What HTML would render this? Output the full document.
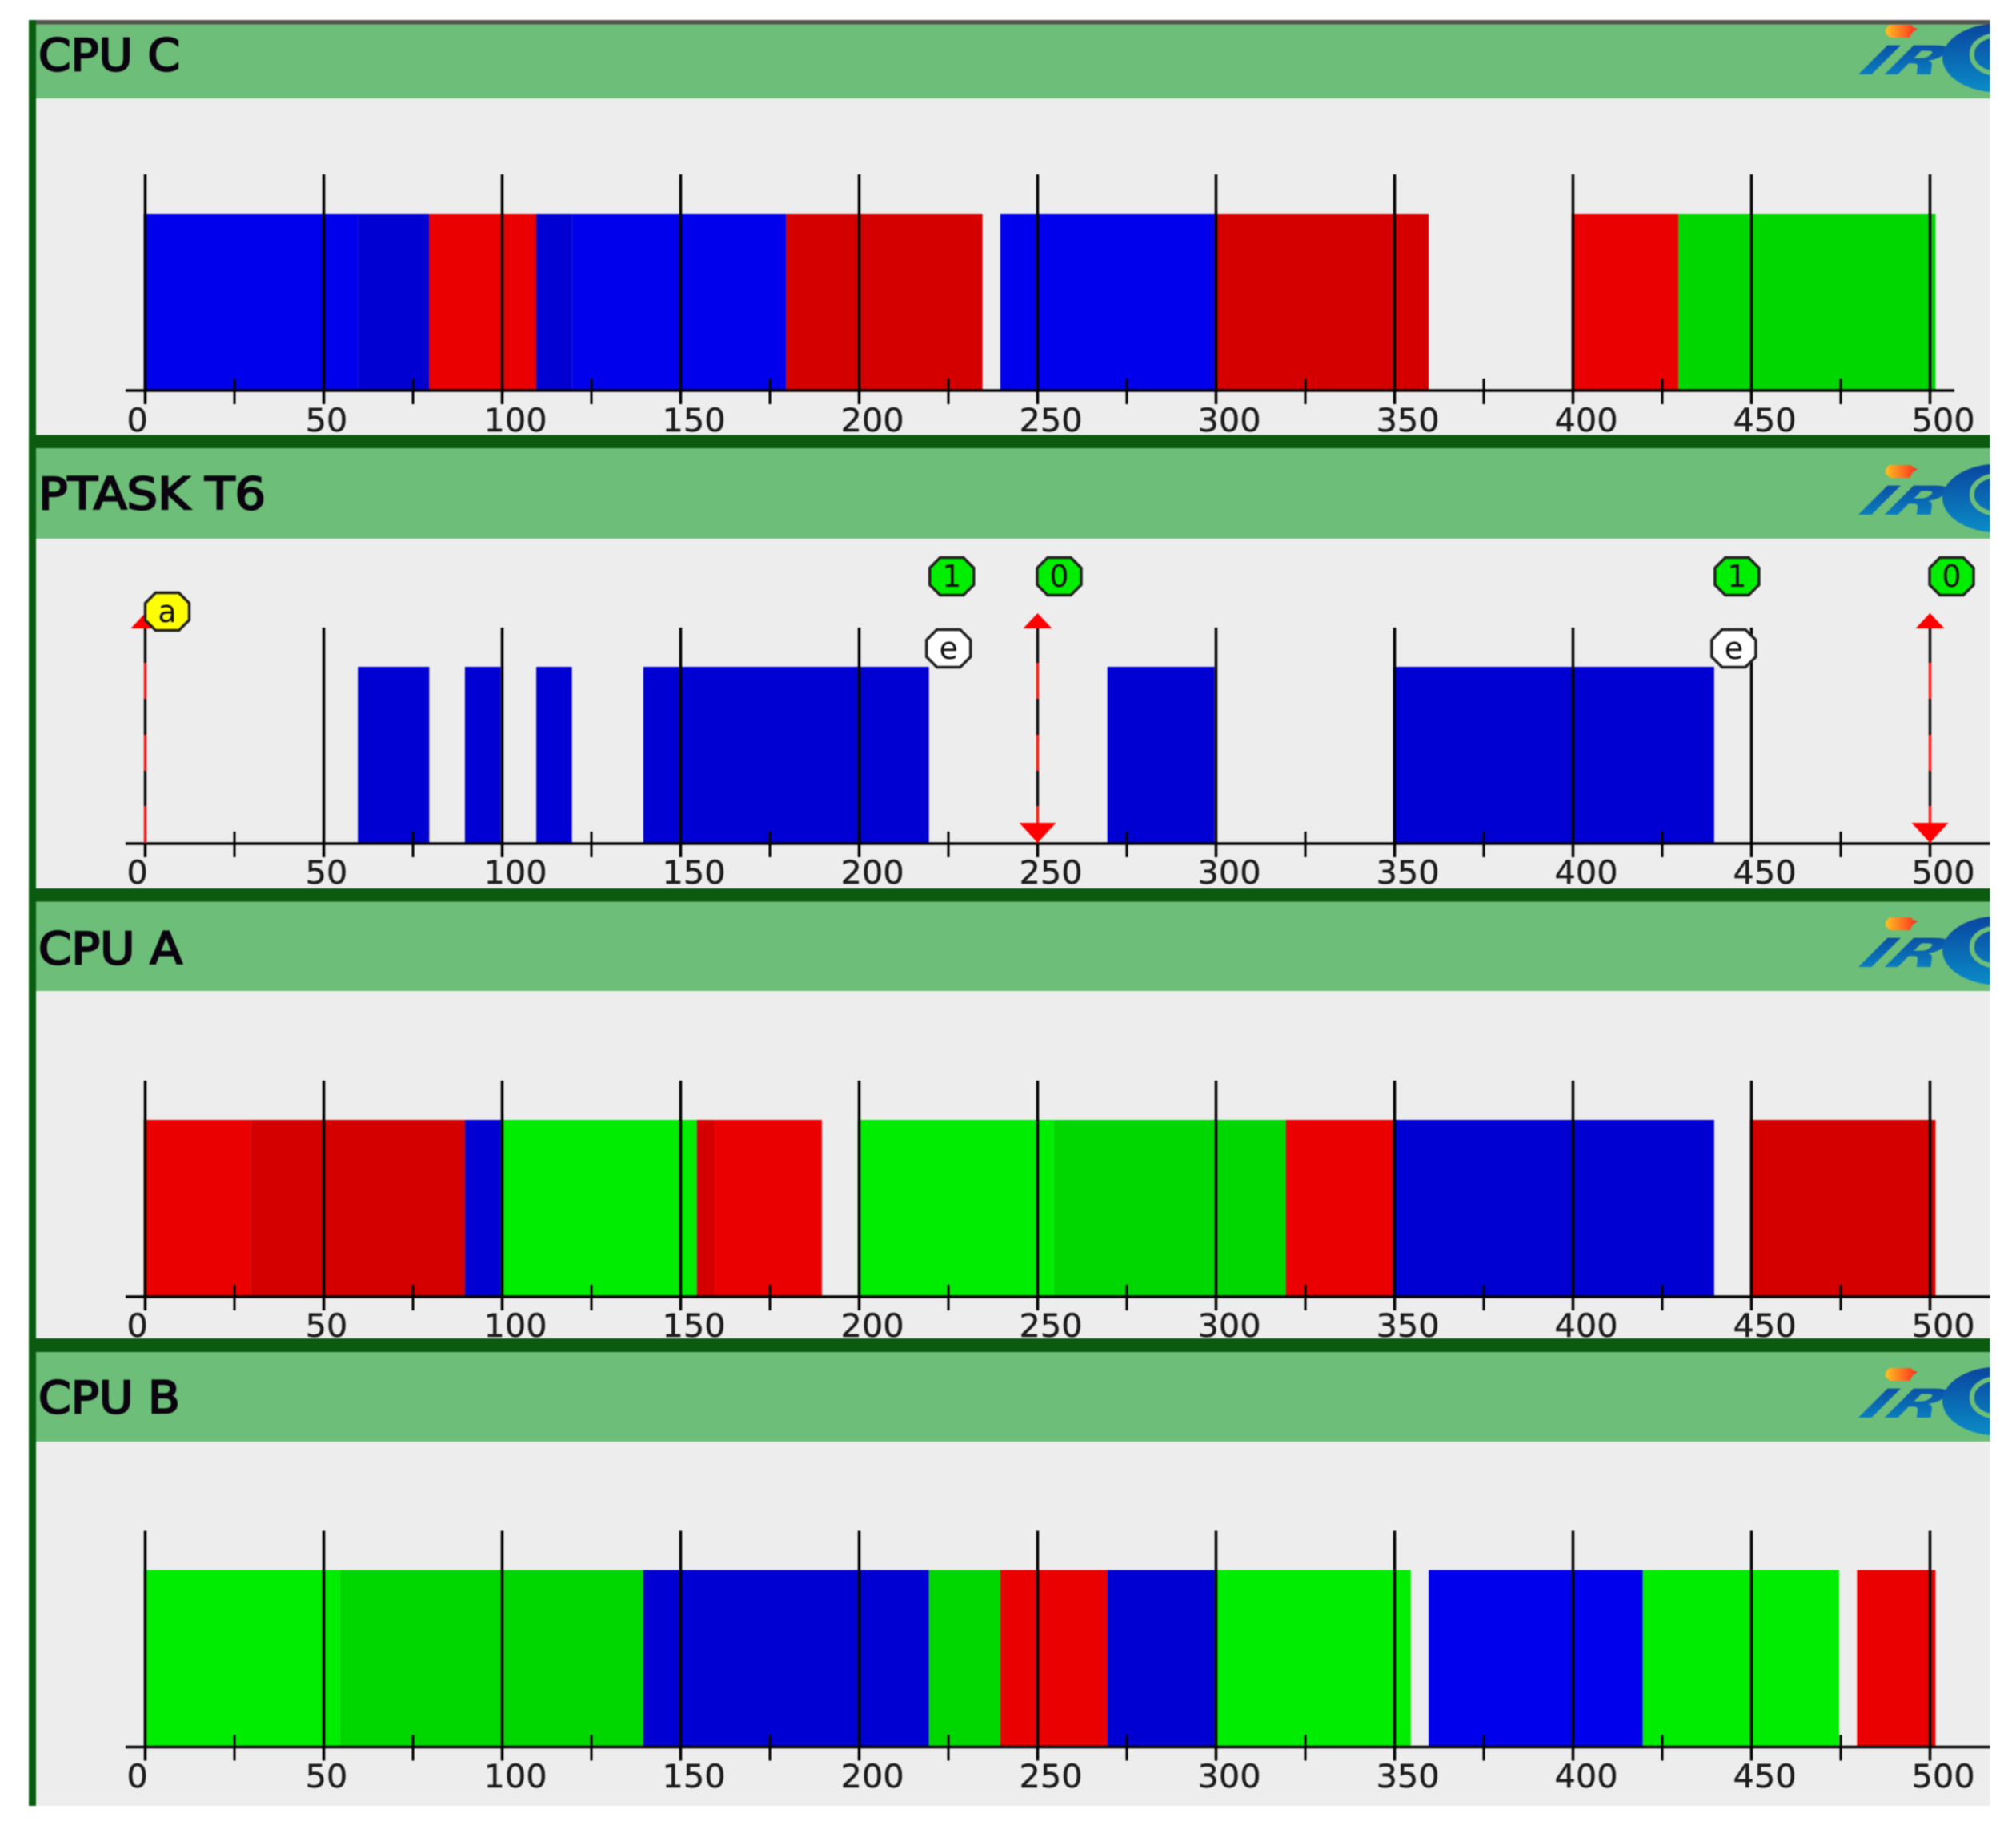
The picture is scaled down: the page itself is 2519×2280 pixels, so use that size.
<!DOCTYPE html>
<html lang="en">
<head>
<meta charset="utf-8">
<title>Schedule timeline per CPU and task</title>
<style>
html,body{margin:0;padding:0;background:#fff;}
#chart{display:block;width:2519px;height:2280px;filter:blur(0.8px);}
.title{font-family:"DejaVu Sans","Liberation Sans",sans-serif;font-size:55px;fill:#0b0410;stroke:#0b0410;stroke-width:2.2px;}
.tick-label{font-family:"DejaVu Sans","Liberation Sans",sans-serif;font-size:40px;fill:#1c1c1c;stroke:#1c1c1c;stroke-width:0.4px;}
.badge-label{font-family:"DejaVu Sans","Liberation Sans",sans-serif;font-size:38px;fill:#111;text-anchor:middle;}
.logo-text{font-family:"DejaVu Sans","Liberation Sans",sans-serif;font-weight:bold;font-style:normal;font-size:50px;}
</style>
</head>
<body>
<svg id="chart" xmlns="http://www.w3.org/2000/svg" width="2519" height="2280" viewBox="0 0 2519 2280">
  <defs>
    <linearGradient id="logoBlue" x1="0" y1="0" x2="0" y2="1">
      <stop offset="0" stop-color="#0a459f"/>
      <stop offset="1" stop-color="#0a8cc6"/>
    </linearGradient>
    <linearGradient id="logoFlame" x1="0" y1="0" x2="1" y2="0">
      <stop offset="0" stop-color="#ffc020"/>
      <stop offset="1" stop-color="#ff2a20"/>
    </linearGradient>
  </defs>

  <rect x="0" y="0" width="2519" height="2280" fill="#ffffff"/>
  <rect x="36" y="30" width="2450.5" height="2226" fill="#ededed"/>

  <rect x="45" y="30" width="2441.5" height="93" fill="#6dbe78"/>
  <rect x="45" y="560" width="2441.5" height="113" fill="#6dbe78"/>
  <rect x="45" y="1126" width="2441.5" height="112" fill="#6dbe78"/>
  <rect x="45" y="1689" width="2441.5" height="112" fill="#6dbe78"/>

  <g id="logos"></g>
  <g id="plots"></g>

  <rect x="36" y="25" width="2450.5" height="5.5" fill="#555550"/>
  <rect x="36" y="25" width="9" height="2231" fill="#0a5c12"/>
  <rect x="36" y="543.5" width="2450.5" height="16.5" fill="#0a5a10"/>
  <rect x="36" y="1110" width="2450.5" height="16.5" fill="#0a5a10"/>
  <rect x="36" y="1672" width="2450.5" height="17" fill="#0a5a10"/>

  <text class="title" x="48" y="88" textLength="177" lengthAdjust="spacingAndGlyphs">CPU C</text>
  <text class="title" x="48" y="636" textLength="284" lengthAdjust="spacingAndGlyphs">PTASK T6</text>
  <text class="title" x="48" y="1204" textLength="180" lengthAdjust="spacingAndGlyphs">CPU A</text>
  <text class="title" x="48" y="1765" textLength="177" lengthAdjust="spacingAndGlyphs">CPU B</text>
</svg>

<script>
// ---- data ----
const tickValues = [0, 50, 100, 150, 200, 250, 300, 350, 400, 450, 500];
const tickLabels = ["0", "50", "100", "150", "200", "250", "300", "350", "400", "450", "500"];
const minorTickValues = [25, 75, 125, 175, 225, 275, 325, 375, 425, 475];

const cpuCStarts = [0, 60, 80, 110, 120, 180, 240, 300, 400, 430];
const cpuCEnds   = [60, 80, 110, 120, 180, 235, 300, 360, 430, 502];
const cpuCShades = ["blue", "blueDark", "red", "blueDark", "blue", "redDark", "blue", "redDark", "red", "greenDark"];

const ptaskStarts = [60, 90, 110, 140, 270, 350];
const ptaskEnds   = [80, 100, 120, 220, 300, 440];
const ptaskShades = ["blueDark", "blueDark", "blueDark", "blueDark", "blueDark", "blueDark"];

const cpuAStarts = [0, 30, 90, 100, 155, 160, 200, 255, 320, 350, 450];
const cpuAEnds   = [30, 90, 100, 155, 160, 190, 255, 320, 350, 440, 502];
const cpuAShades = ["red", "redDark", "blueDark", "green", "redDark", "red", "green", "greenDark", "red", "blueDark", "redDark"];

const cpuBStarts = [0, 55, 140, 220, 240, 270, 300, 360, 420, 480];
const cpuBEnds   = [55, 140, 220, 240, 270, 300, 355, 420, 475, 502];
const cpuBShades = ["green", "greenDark", "blueDark", "greenDark", "red", "blueDark", "green", "blue", "green", "red"];

const arrivalTimes = [0, 250, 500];
const deadlineTimes = [250, 500];
const startBadgeTimes = [220, 440];
const startBadgeLabels = ["1", "1"];
const resetBadgeTimes = [250, 500];
const resetBadgeLabels = ["0", "0"];
const endBadgeTimes = [220, 440];
const endBadgeLabels = ["e", "e"];
const activationBadgeTimes = [0];
const activationBadgeLabels = ["a"];

// ---- scale & helpers ----
const palette = {
  blue: "#0000ec", blueDark: "#0000d2",
  red: "#ea0000", redDark: "#d40000",
  green: "#00ec00", greenDark: "#00d600"
};
const SVG_NS = "http://www.w3.org/2000/svg";
function xScale(t) { return 181.5 + t * 4.46; }
function barX(t) { return xScale(t) - 2; }
function make(parent, tag, attrs) {
  const el = document.createElementNS(SVG_NS, tag);
  for (const k in attrs) el.setAttribute(k, attrs[k]);
  parent.appendChild(el);
  return el;
}

function drawLogo(parent, dy) {
  const g = make(parent, "g", { transform: "translate(0," + dy + ")" });
  
  
  const flame = make(g, "polygon", {
    points: "2356,36 2361,31 2388,31 2390,34 2396,36 2390,40 2386,47 2362,47 2356,42",
    fill: "url(#logoFlame)"
  });
  
  
  const word = make(g, "text", {
    "class": "logo-text",
    transform: "translate(2314,93) skewX(-45) ",
    x: 0, y: 0,
    textLength: 100,
    lengthAdjust: "spacingAndGlyphs",
    fill: "url(#logoBlue)"
  });
  word.textContent = "IR";
  
  
  const disc = make(g, "path", {
    d: "M2486.5 30 L2486.5 115 A70 43.5 0 0 1 2427 72.5 A70 43.5 0 0 1 2486.5 30 Z",
    fill: "url(#logoBlue)"
  });
  
  
  const ring = make(g, "path", {
    d: "M2486.5 45 A33 23 0 0 0 2464 68 A33 23 0 0 0 2486.5 91",
    fill: "none", stroke: "#6dbe78", "stroke-width": 6
  });
  
  
}

function drawBars(parent, starts, ends, shades, axisY, prefix) {
  starts.forEach(function (s, i) {
    const bar = make(parent, "rect", {
      x: barX(s),
      y: axisY - 221,
      width: barX(ends[i]) - barX(s),
      height: 220,
      fill: palette[shades[i]]
    });
    
    
  });
}

function drawMajor(parent, t, axisY, dashedOnly) {
  const x = xScale(t);
  if (!dashedOnly) {
    const grid = make(parent, "line", { x1: x, x2: x, y1: axisY - 270, y2: axisY + 17, stroke: "#000", "stroke-width": 3.5 });
    
    
  } else {
    const tick = make(parent, "line", { x1: x, x2: x, y1: axisY, y2: axisY + 17, stroke: "#000", "stroke-width": 3.5 });
    
    
  }
}

function drawAxis(parent, axisY, axisEnd, labelBaseline) {
  const axis = make(parent, "line", { x1: 157, x2: axisEnd, y1: axisY, y2: axisY, stroke: "#000", "stroke-width": 3.5 });
  
  
  minorTickValues.forEach(function (t) {
    const x = xScale(t);
    const tick = make(parent, "line", { x1: x, x2: x, y1: axisY - 15, y2: axisY + 17, stroke: "#000", "stroke-width": 3 });
    
    
  });
  tickValues.forEach(function (t, i) {
    const label = make(parent, "text", {
      "class": "tick-label",
      x: xScale(t) - 23,
      y: labelBaseline,
      textLength: tickLabels[i].length * 26.4,
      lengthAdjust: "spacingAndGlyphs"
    });
    label.textContent = tickLabels[i];
    
    
  });
}

function drawPanel(name, starts, ends, shades, axisY, axisEnd, labelBaseline, dashed) {
  const root = document.getElementById("plots");
  const g = make(root, "g", {});
  
  
  drawBars(g, starts, ends, shades, axisY, name);
  drawAxis(g, axisY, axisEnd, labelBaseline);
  tickValues.forEach(function (t) {
    drawMajor(g, t, axisY, dashed.indexOf(t) !== -1);
  });
  return g;
}

function drawEventLine(parent, t, axisY) {
  const x = xScale(t);
  const top = axisY - 272;
  const breaks = [0, 46, 91, 136, 181, 225, 271];
  for (let i = 0; i < breaks.length - 1; i++) {
    const seg = make(parent, "line", {
      x1: x, x2: x,
      y1: top + breaks[i], y2: top + breaks[i + 1],
      stroke: i % 2 === 0 ? "#111" : "#ff1a1a",
      "stroke-width": 3.5
    });
    
    
  }
}

function drawUpArrow(parent, t, axisY) {
  const x = xScale(t);
  const base = axisY - 269;
  const a = make(parent, "polygon", {
    points: (x - 18) + "," + base + " " + (x + 18) + "," + base + " " + x + "," + (base - 19),
    fill: "#ff0000"
  });
  
  
}

function drawDownArrow(parent, t, axisY) {
  const x = xScale(t);
  const base = axisY - 26;
  const a = make(parent, "polygon", {
    points: (x - 23) + "," + base + " " + (x + 23) + "," + base + " " + x + "," + (axisY - 1),
    fill: "#ff0000"
  });
  
  
}

function drawBadge(parent, t, offsetX, cy, label, fill, name) {
  const cx = xScale(t) + offsetX;
  const w = 27.5, h = 23.5, c = 13;
  const pts = [
    [cx - w + c, cy - h], [cx + w - c, cy - h], [cx + w, cy - h + c], [cx + w, cy + h - c],
    [cx + w - c, cy + h], [cx - w + c, cy + h], [cx - w, cy + h - c], [cx - w, cy - h + c]
  ].map(function (p) { return p[0] + "," + p[1]; }).join(" ");
  const g = make(parent, "g", {});
  
  
  make(g, "polygon", { points: pts, fill: fill, stroke: "#222", "stroke-width": 3.5 });
  const text = make(g, "text", { "class": "badge-label", x: cx, y: cy + 13 });
  text.textContent = label;
}

// ---- render ----
const logoGroup = document.getElementById("logos");
drawLogo(logoGroup, 0);
drawLogo(logoGroup, 550);
drawLogo(logoGroup, 1115);
drawLogo(logoGroup, 1678);

drawPanel("cpu-c", cpuCStarts, cpuCEnds, cpuCShades, 488, 2442, 539, []);
const ptaskGroup = drawPanel("ptask-t6", ptaskStarts, ptaskEnds, ptaskShades, 1054, 2486.5, 1104, arrivalTimes);
drawPanel("cpu-a", cpuAStarts, cpuAEnds, cpuAShades, 1620, 2486.5, 1670, []);
drawPanel("cpu-b", cpuBStarts, cpuBEnds, cpuBShades, 2182.5, 2486.5, 2233, []);

arrivalTimes.forEach(function (t) {
  drawEventLine(ptaskGroup, t, 1054);
  drawUpArrow(ptaskGroup, t, 1054);
});
deadlineTimes.forEach(function (t) { drawDownArrow(ptaskGroup, t, 1054); });
activationBadgeTimes.forEach(function (t, i) {
  drawBadge(ptaskGroup, t, 27.5, 764, activationBadgeLabels[i], "#ffff00", "activation-badge");
});
startBadgeTimes.forEach(function (t, i) {
  drawBadge(ptaskGroup, t, 26.5, 720, startBadgeLabels[i], "#00ee00", "start-badge");
});
resetBadgeTimes.forEach(function (t, i) {
  drawBadge(ptaskGroup, t, 27, 720, resetBadgeLabels[i], "#00ee00", "reset-badge");
});
endBadgeTimes.forEach(function (t, i) {
  drawBadge(ptaskGroup, t, 22.5, 810, endBadgeLabels[i], "#ffffff", "end-badge");
});
</script>
</body>
</html>
